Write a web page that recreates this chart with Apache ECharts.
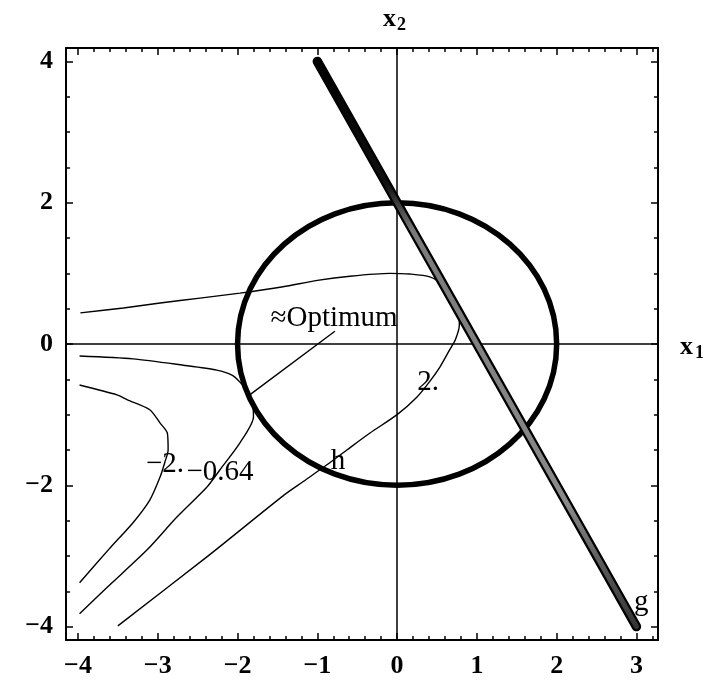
<!DOCTYPE html>
<html>
<head>
<meta charset="utf-8">
<script src="https://cdn.jsdelivr.net/npm/echarts@6/dist/echarts.min.js"></script>
<style>
  html, body { margin: 0; padding: 0; background: #fff; }
  #chart { width: 703px; height: 687px; }
</style>
</head>
<body>
<div id="chart"></div>
<script>
// Plot window (x1, x2)
const xRange = [-4.15, 3.27];
const yRange = [-4.19, 4.19];

// Frame tick positions and labels
const xMajorTicks = [-4, -3, -2, -1, 0, 1, 2, 3];
const yMajorTicks = [-4, -2, 0, 2, 4];
const xMinorStep = 0.2;
const yMinorStep = 0.5;

// Contour of level 2.
const contourLevel2 = [
  [-3.97, 0.44], [-3.43, 0.51], [-2.97, 0.58], [-2.47, 0.65], [-1.97, 0.72],
  [-1.43, 0.81], [-1.00, 0.90], [-0.59, 0.96], [-0.09, 1.00], [0.16, 0.99],
  [0.41, 0.95], [0.58, 0.83], [0.73, 0.62], [0.78, 0.44], [0.78, 0.27],
  [0.73, 0.06], [0.66, -0.08], [0.54, -0.32], [0.41, -0.53], [0.25, -0.75],
  [0.00, -1.00], [-0.34, -1.26], [-0.63, -1.50], [-0.88, -1.71], [-1.18, -1.95],
  [-1.43, -2.15], [-2.38, -3.01], [-3.50, -3.99]
];

// Contour of level -0.64 (touches the circle at the optimum)
const contourLevelM064 = [
  [-3.98, -0.17], [-3.31, -0.21], [-2.68, -0.30], [-2.26, -0.37], [-2.07, -0.44],
  [-1.97, -0.54], [-1.87, -0.69], [-1.81, -0.88], [-1.80, -1.03], [-1.97, -1.40],
  [-2.22, -1.78], [-2.38, -2.02], [-2.76, -2.45], [-3.13, -2.91], [-3.63, -3.44],
  [-3.98, -3.82]
];

// Contour of level -2.
const contourLevelM2 = [
  [-3.98, -0.58], [-3.51, -0.72], [-3.38, -0.79], [-3.10, -0.93], [-2.97, -1.12],
  [-2.88, -1.26], [-2.87, -1.50], [-2.91, -1.67], [-2.97, -1.88], [-3.10, -2.21],
  [-3.31, -2.53], [-3.60, -2.89], [-3.98, -3.38]
];

// Constraint h: circle of radius 2 about the origin  [cx, cy, r]
const circleH = [[0, 0, 2]];

// Constraint g: straight line segment
const lineG = [[-1, 4], [3, -4]];

// Pointer from the "≈Optimum" caption to the optimum on the circle
const optimumPointer = [[-0.78, 0.18], [-1.86, -0.73]];

// In-plot captions
const captionTexts = ['\u2248Optimum', '2.', '\u22122.', '\u22120.64', 'h', 'g'];
const captionPos = [
  [-0.79, 0.36], [0.39, -0.55], [-2.91, -1.70], [-2.22, -1.82], [-0.74, -1.66], [3.06, -3.66]
];

function stepTicks(lo, hi, step) {
  const out = [];
  const n = Math.round((hi - lo) / step);
  for (let i = 0; i <= n; i++) out.push(+(lo + i * step).toFixed(2));
  return out;
}
const xMinorTicks = stepTicks(-4, 3.2, xMinorStep);
const yMinorTicks = stepTicks(-4, 4, yMinorStep);

const serif = '"Liberation Serif", "Times New Roman", serif';
const fmt = v => String(v).replace('-', '\u2212');

function frameAxis(pos, gridIndex, range, ticks, len, withLine, labels) {
  return {
    type: 'value', gridIndex, position: pos,
    min: range[0], max: range[1],
    axisLine: { show: withLine, onZero: false, lineStyle: { color: '#000', width: 2 } },
    axisTick: { show: true, inside: true, length: len, customValues: ticks,
                lineStyle: { color: '#000', width: 1.5 } },
    axisLabel: labels ? Object.assign({ show: true, customValues: labels, formatter: fmt,
                color: '#000', fontFamily: serif, fontWeight: 'bold', fontSize: 26 }, labels.opts) : { show: false },
    splitLine: { show: false }
  };
}

const xLabels = xMajorTicks.slice(); xLabels.opts = { margin: 13 };
const yLabels = yMajorTicks.slice(); yLabels.opts = { margin: 13 };

const gridBox = { left: 66, top: 48, width: 592, height: 592 };

const chart = echarts.init(document.getElementById('chart'), null, { renderer: 'canvas' });

const contourStyle = { color: '#000', width: 1.4 };

chart.setOption({
  animation: false,
  backgroundColor: '#fff',
  grid: [Object.assign({}, gridBox), Object.assign({}, gridBox)],
  xAxis: [
    frameAxis('bottom', 0, xRange, xMajorTicks, 7, true, xLabels),
    frameAxis('top', 0, xRange, xMajorTicks, 7, true, null),
    frameAxis('bottom', 1, xRange, xMinorTicks, 4, false, null),
    frameAxis('top', 1, xRange, xMinorTicks, 4, false, null)
  ],
  yAxis: [
    frameAxis('left', 0, yRange, yMajorTicks, 7, true, yLabels),
    frameAxis('right', 0, yRange, yMajorTicks, 7, true, null),
    frameAxis('left', 1, yRange, yMinorTicks, 4, false, null),
    frameAxis('right', 1, yRange, yMinorTicks, 4, false, null)
  ],
  graphic: [
    { type: 'text', left: 383, top: 6, style: { text: 'x', font: 'bold 26px ' + serif, fill: '#000' } },
    { type: 'text', left: 397, top: 16, style: { text: '2', font: 'bold 18px ' + serif, fill: '#000' } },
    { type: 'text', left: 680, top: 334, style: { text: 'x', font: 'bold 26px ' + serif, fill: '#000' } },
    { type: 'text', left: 695, top: 344, style: { text: '1', font: 'bold 18px ' + serif, fill: '#000' } }
  ],
  series: [
    { type: 'line', data: contourLevel2, showSymbol: false, smooth: 0.25, lineStyle: contourStyle, z: 2 },
    { type: 'line', data: contourLevelM064, showSymbol: false, smooth: 0.25, lineStyle: contourStyle, z: 2 },
    { type: 'line', data: contourLevelM2, showSymbol: false, smooth: 0.25, lineStyle: contourStyle, z: 2 },
    {
      type: 'line', data: optimumPointer, showSymbol: false, lineStyle: contourStyle, z: 2,
      markLine: {
        silent: true, symbol: ['none', 'none'], label: { show: false },
        lineStyle: { color: '#000', width: 1.5, type: 'solid' },
        data: [{ yAxis: 0 }, { xAxis: 0 }]
      }
    },
    {
      type: 'custom', data: circleH, z: 3,
      encode: { x: 0, y: 1 },
      renderItem: function (params, api) {
        const c = api.coord([api.value(0), api.value(1)]);
        const s = api.size([api.value(2), api.value(2)]);
        return {
          type: 'ellipse',
          shape: { cx: c[0], cy: c[1], rx: s[0], ry: s[1] },
          style: { fill: 'none', stroke: '#000', lineWidth: 5.5 }
        };
      }
    },
    { type: 'line', data: lineG, showSymbol: false, z: 4,
      lineStyle: { color: '#000', width: 9.5, cap: 'round' } },
    { type: 'line', data: lineG, showSymbol: false, z: 5,
      lineStyle: { width: 5, cap: 'round', color: {
        type: 'linear', x: 0, y: 0, x2: 0, y2: 1,
        colorStops: [
          { offset: 0, color: '#000' }, { offset: 0.22, color: '#111' },
          { offset: 0.3, color: '#7a7a7a' }, { offset: 0.78, color: '#8a8a8a' },
          { offset: 0.9, color: '#555' }, { offset: 1, color: '#333' }
        ] } } },
    {
      type: 'custom', data: captionPos, z: 6,
      encode: { x: 0, y: 1 },
      renderItem: function (params, api) {
        const p = api.coord([api.value(0), api.value(1)]);
        return {
          type: 'text', x: p[0], y: p[1],
          style: { text: captionTexts[params.dataIndex], font: '29px ' + serif,
                   fill: '#000', align: 'center', verticalAlign: 'middle' }
        };
      }
    }
  ]
});
</script>
</body>
</html>
